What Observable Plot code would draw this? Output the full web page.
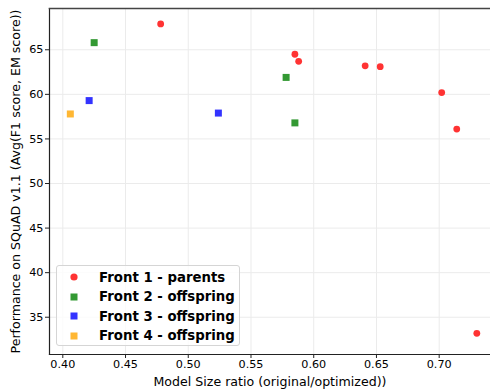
<!DOCTYPE html>
<html>
<head>
<meta charset="utf-8">
<script src="https://cdn.jsdelivr.net/npm/d3@7"></script>
<script src="https://cdn.jsdelivr.net/npm/@observablehq/plot@0.6"></script>
<style>
  html, body { margin: 0; padding: 0; background: #fff; }
  #wrap { position: relative; width: 490px; height: 389px; font-family: "DejaVu Sans", sans-serif; }
  #wrap svg text { font-size: 11.2px; font-family: "DejaVu Sans", sans-serif; }
  #wrap svg g[aria-label="x-axis label"] text, #wrap svg g[aria-label="y-axis label"] text { font-size: 12.6px; }
  #legend { position: absolute; left: 56px; top: 265px; width: 184px; height: 81px;
    border: 1px solid #d5d5d5; border-radius: 3px; background: rgba(255,255,255,0.8); box-sizing: border-box; }
  .row { position: absolute; left: 0; height: 20px; display: flex; align-items: center; }
  .row svg { position: absolute; left: 12px; }
  .row span { position: absolute; left: 42px; font-weight: bold; font-size: 13.3px; white-space: nowrap; color: #000; }
</style>
</head>
<body>
<div id="wrap"></div>
<script>
const seriesNames = ["Front 1 - parents", "Front 2 - offspring", "Front 3 - offspring", "Front 4 - offspring"];
const seriesColors = ["#ff3333", "#339933", "#3333ff", "#ffb733"];
const seriesSymbols = ["circle", "square", "square", "square"];

const front1X = [0.478, 0.585, 0.588, 0.641, 0.653, 0.702, 0.714, 0.730];
const front1Y = [67.9, 64.5, 63.7, 63.2, 63.1, 60.2, 56.1, 33.2];
const front2X = [0.425, 0.578, 0.585];
const front2Y = [65.8, 61.9, 56.8];
const front3X = [0.421, 0.524];
const front3Y = [59.3, 57.9];
const front4X = [0.406];
const front4Y = [57.8];

const xTicks = [0.40, 0.45, 0.50, 0.55, 0.60, 0.65, 0.70];
const yTicks = [35, 40, 45, 50, 55, 60, 65];

const xLabel = "Model Size ratio (original/optimized))";
const yLabel = "Performance on SQuAD v1.1 (Avg(F1 score, EM score))";

const groupsX = [front1X, front2X, front3X, front4X];
const groupsY = [front1Y, front2Y, front3Y, front4Y];
const data = [];
groupsX.forEach((xs, g) => xs.forEach((x, i) => data.push({x, y: groupsY[g][i], s: g})));

const plot = Plot.plot({
  width: 490,
  height: 389,
  marginLeft: 49,
  marginRight: 0,
  marginTop: 8,
  marginBottom: 35,
  style: { fontFamily: "DejaVu Sans, sans-serif", fontSize: "11.2px", color: "#000", background: "#fff" },
  x: { domain: [0.3894, 0.7409] },
  y: { domain: [30.82, 69.63] },
  marks: [
    Plot.gridX(xTicks, { stroke: "#ebebeb", strokeOpacity: 1, strokeWidth: 1 }),
    Plot.gridY(yTicks, { stroke: "#ebebeb", strokeOpacity: 1, strokeWidth: 1 }),
    Plot.axisX(xTicks, { tickFormat: d3.format(".2f"), tickSize: 4, tickPadding: 2, stroke: "#222",
      label: xLabel, labelAnchor: "center", labelArrow: "none", labelOffset: 31 }),
    Plot.axisY(yTicks, { tickFormat: d => String(d), tickSize: 4, tickPadding: 2, stroke: "#222",
      label: yLabel, labelAnchor: "center", labelArrow: "none", labelOffset: 38.5 }),
    Plot.frame({ anchor: "left", stroke: "#222", strokeWidth: 1.2 }),
    Plot.frame({ anchor: "bottom", stroke: "#222", strokeWidth: 1.2 }),
    Plot.frame({ anchor: "top", stroke: "#444", strokeWidth: 1.6 }),
    Plot.dot(data.filter(d => d.s === 0), { x: "x", y: "y", symbol: "circle", r: 3.4, fill: seriesColors[0] }),
    Plot.dot(data.filter(d => d.s > 0), { x: "x", y: "y", symbol: "square", r: 3.95, fill: d => seriesColors[d.s] })
  ]
});

const wrap = document.getElementById("wrap");
wrap.appendChild(plot);

const legend = document.createElement("div");
legend.id = "legend";
const rowTops = [1, 20.5, 40, 59.5];
seriesNames.forEach((name, i) => {
  const row = document.createElement("div");
  row.className = "row";
  row.style.top = rowTops[i] + "px";
  const marker = seriesSymbols[i] === "circle"
    ? `<circle cx="5" cy="5" r="3.6" fill="${seriesColors[i]}"/>`
    : `<rect x="1.5" y="1.5" width="7" height="7" fill="${seriesColors[i]}"/>`;
  row.innerHTML = `<svg width="10" height="10" viewBox="0 0 10 10">${marker}</svg><span>${name}</span>`;
  legend.appendChild(row);
});
wrap.appendChild(legend);
</script>
</body>
</html>
